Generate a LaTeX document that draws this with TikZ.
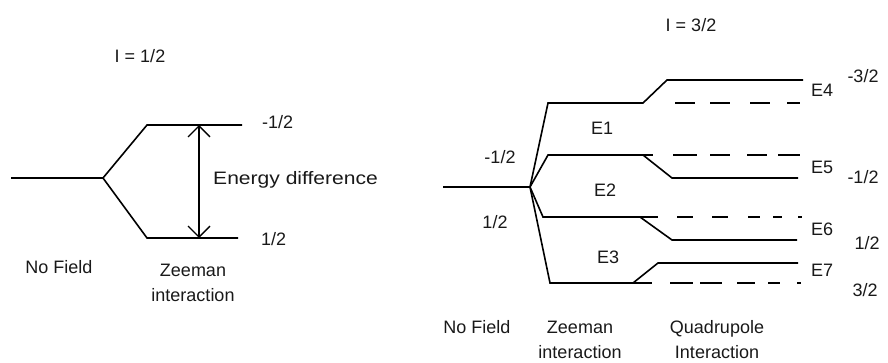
\documentclass[tikz,border=0pt]{standalone}
\usepackage{fontspec}
\setmainfont{Liberation Sans}
\usetikzlibrary{arrows.meta}
\begin{document}
\begin{tikzpicture}[x=1pt,y=-1pt,
  level/.style={line width=1.6pt, line cap=butt},
  ghost/.style={line width=1.6pt},
  lbl/.style={font=\fontsize{18}{25}\selectfont, inner sep=0pt, text=black!90, align=center},
  gap/.style={{Straight Barb[length=11pt,width=22pt,line width=1.3pt]}-{Straight Barb[length=11pt,width=22pt,line width=1.3pt]}, line width=1.6pt}]
\useasboundingbox (0,0) rectangle (888,363);

% ---------- I = 1/2 : Zeeman splitting only ----------
\coordinate (a0) at (11,178);
\coordinate (ab) at (103,178);
\coordinate (au) at (147,125);
\coordinate (aue) at (242,125);
\coordinate (ad) at (147,238);
\coordinate (ade) at (238,238);
\coordinate (at) at (199,125);
\coordinate (abt) at (199,238);
\draw[level] (a0) -- (ab) -- (au) -- (aue);
\draw[level] (ab) -- (ad) -- (ade);
\draw[gap] (at) -- (abt);

\node[lbl] (spinA) at (140,56) {I = 1/2};
\node[lbl, anchor=west] (mAu) at (262,122) {-1/2};
\node[lbl, anchor=west] (mAd) at (261,239) {1/2};
\node[lbl, anchor=west] (dE) at (213,180) {\scalebox{1.17}[1]{Energy difference}};
\node[lbl] (nfA) at (59,267) {No Field};
\node[lbl] (zA) at (193,282.5) {Zeeman\\interaction};

% ---------- I = 3/2 : Zeeman plus quadrupole ----------
\coordinate (b0) at (443,187);
\coordinate (bb) at (530,187);
% m = -3/2
\coordinate (z1) at (548,103);
\coordinate (k1) at (643,103);
\coordinate (q1) at (667,80);
\coordinate (e4) at (803,80);
\coordinate (g1s) at (675,103);
\coordinate (g1e) at (803,103);
% m = -1/2
\coordinate (z2) at (548,155);
\coordinate (k2) at (643,155);
\coordinate (q2) at (672,178);
\coordinate (e5) at (798,178);
\coordinate (g2e) at (801,155);
% m = 1/2
\coordinate (z3) at (543,217);
\coordinate (k3) at (640,217);
\coordinate (q3) at (672,240);
\coordinate (e6) at (797,240);
\coordinate (g3e) at (802,217);
% m = 3/2
\coordinate (z4) at (550,283);
\coordinate (k4) at (633,283);
\coordinate (q4) at (658,263);
\coordinate (e7) at (798,263);
\coordinate (g4e) at (801,283);

\draw[level] (b0) -- (bb);
\draw[level] (bb) -- (z1) -- (k1) -- (q1) -- (e4);
\draw[level] (bb) -- (z2) -- (k2) -- (q2) -- (e5);
\draw[level] (bb) -- (z3) -- (k3) -- (q3) -- (e6);
\draw[level] (bb) -- (z4) -- (k4) -- (q4) -- (e7);

% unshifted positions left after the quadrupole shift
\draw[ghost, dash pattern=on 20pt off 15pt on 20pt off 20pt on 20pt off 17pt on 13pt] (g1s) -- (g1e);
\draw[ghost, dash pattern=on 10pt off 20pt on 24pt off 13pt on 20pt off 17pt on 20pt off 11pt on 22pt] (k2) -- (g2e);
\draw[ghost, dash pattern=on 18pt off 19pt on 16pt off 19pt on 16pt off 20pt on 12pt off 13pt on 9pt off 16pt on 4pt] (k3) -- (g3e);
\draw[ghost, dash pattern=on 19pt off 18pt on 23pt off 7pt on 22pt off 15pt on 18pt off 13pt on 12pt off 17pt on 4pt] (k4) -- (g4e);

\node[lbl] (spinB) at (691,25) {I = 3/2};
\node[lbl] (E1) at (602,128) {E1};
\node[lbl] (E2) at (605,190) {E2};
\node[lbl] (E3) at (608,257) {E3};
\node[lbl] (E4) at (822,90) {E4};
\node[lbl] (E5) at (822,167) {E5};
\node[lbl] (E6) at (822,229) {E6};
\node[lbl] (E7) at (822,270) {E7};
\node[lbl] (mB1) at (863,76) {-3/2};
\node[lbl] (mB2) at (863,177) {-1/2};
\node[lbl] (mB3) at (867,243) {1/2};
\node[lbl] (mB4) at (865,290) {3/2};
\node[lbl] (zu) at (500,157) {-1/2};
\node[lbl] (zd) at (495,222) {1/2};
\node[lbl] (nfB) at (477,327) {No Field};
\node[lbl] (zB) at (580,339.5) {Zeeman\\interaction};
\node[lbl] (qB) at (717,339.5) {Quadrupole\\Interaction};
\end{tikzpicture}
\end{document}
